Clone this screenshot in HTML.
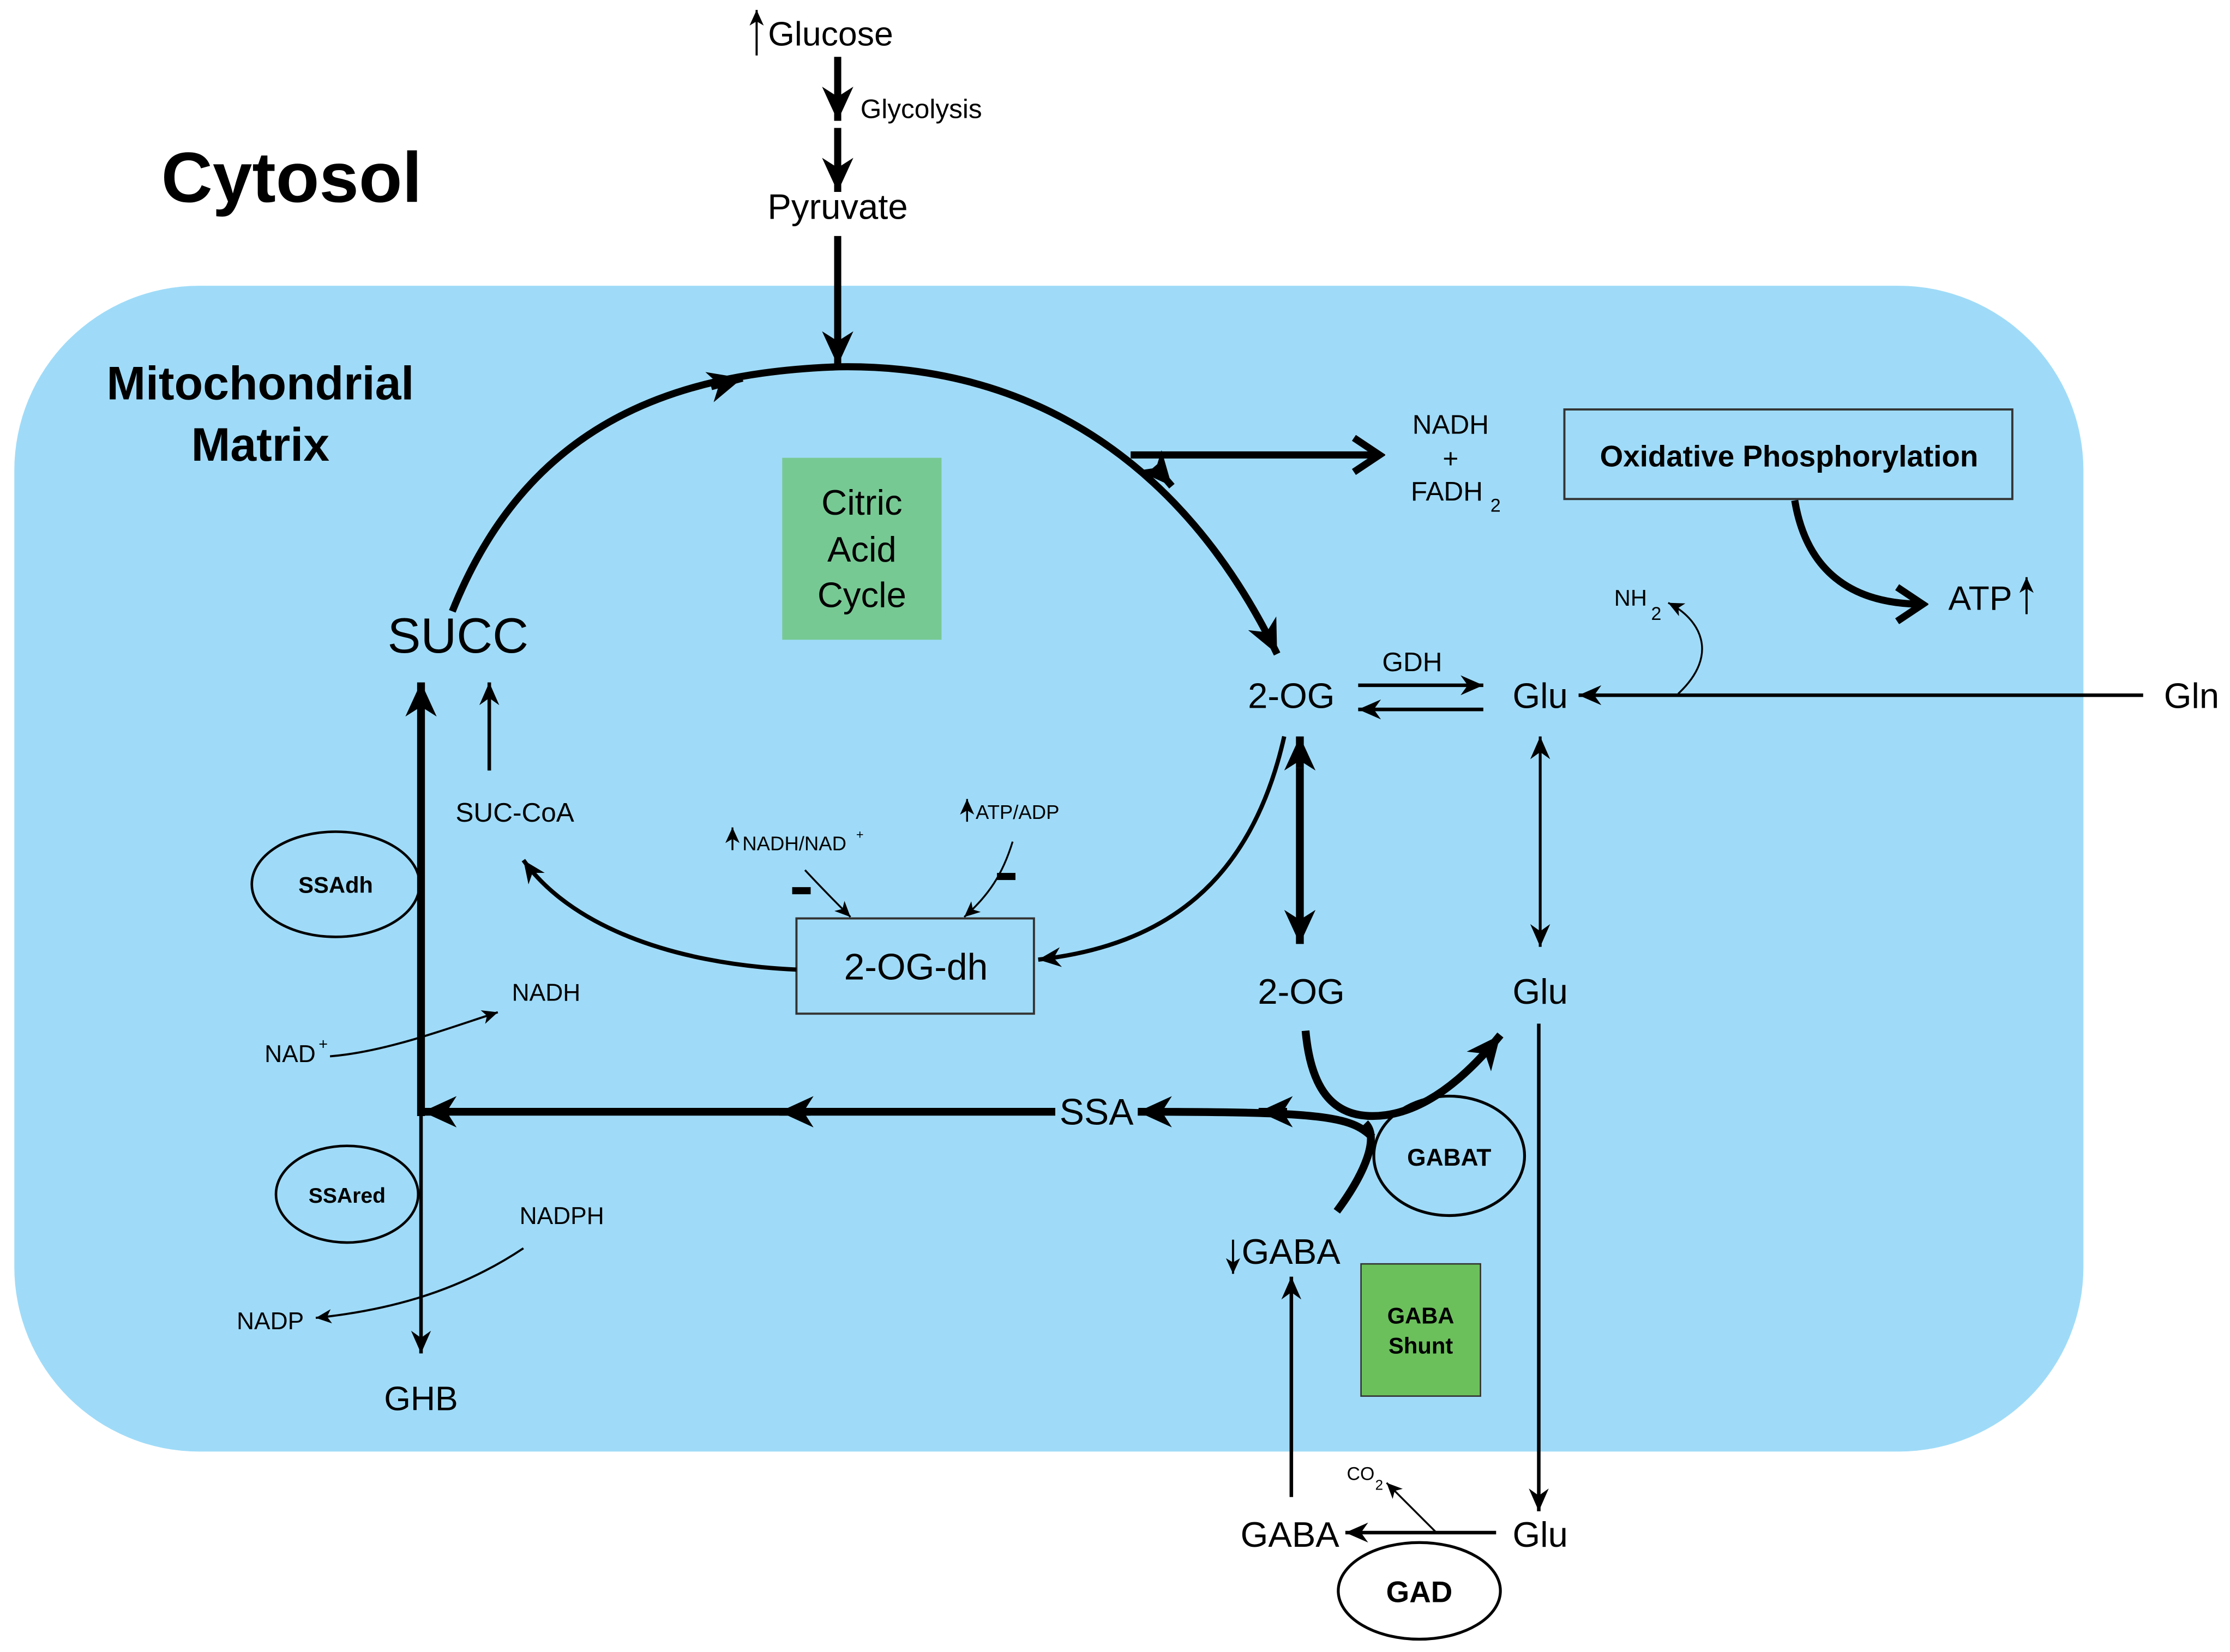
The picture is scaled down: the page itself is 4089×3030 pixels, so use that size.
<!DOCTYPE html>
<html><head><meta charset="utf-8"><style>
html,body{margin:0;padding:0;background:#fff;}
svg{display:block;}
text{font-family:"Liberation Sans",sans-serif;fill:#000;}
</style></head><body>
<svg width="4089" height="3030" viewBox="0 0 1568 1162" xmlns="http://www.w3.org/2000/svg">
<defs>
<marker id="big" markerUnits="userSpaceOnUse" viewBox="-24 -12 26 24" refX="0" refY="0" markerWidth="26" markerHeight="24" orient="auto"><path d="M0,0 L-24,-11 L-17,0 L-24,11 Z" fill="#000"/></marker>
<marker id="med" markerUnits="userSpaceOnUse" viewBox="-16 -8 18 16" refX="0" refY="0" markerWidth="18" markerHeight="16" orient="auto"><path d="M0,0 L-16,-7 L-11,0 L-16,7 Z" fill="#000"/></marker>
<marker id="sm" markerUnits="userSpaceOnUse" viewBox="-12 -6 14 12" refX="0" refY="0" markerWidth="14" markerHeight="12" orient="auto"><path d="M0,0 L-11,-5 L-8,0 L-11,5 Z" fill="#000"/></marker>
<marker id="chev" markerUnits="userSpaceOnUse" viewBox="-20 -14 24 28" refX="0" refY="0" markerWidth="24" markerHeight="28" orient="auto"><path d="M-18,-12 L0,0 L-18,12" fill="none" stroke="#000" stroke-width="5"/></marker>
</defs>
<rect x="10" y="201" width="1455" height="820" rx="130" ry="130" fill="#9fdbf8"/>

<!-- top -->
<text x="540" y="32" font-size="24">Glucose</text>
<line x1="532" y1="39" x2="532" y2="7" stroke="#000" stroke-width="1.5" marker-end="url(#sm)"/>
<line x1="589" y1="40" x2="589" y2="85" stroke="#000" stroke-width="5" marker-end="url(#big)"/>
<text x="605" y="83" font-size="19">Glycolysis</text>
<line x1="589" y1="90" x2="589" y2="135" stroke="#000" stroke-width="5" marker-end="url(#big)"/>
<text x="589" y="154" font-size="25" text-anchor="middle">Pyruvate</text>
<line x1="589" y1="166" x2="589" y2="257" stroke="#000" stroke-width="5" marker-end="url(#big)"/>

<text x="205" y="142" font-size="50" font-weight="bold" text-anchor="middle">Cytosol</text>
<text x="183" y="281" font-size="33" font-weight="bold" text-anchor="middle">Mitochondrial</text>
<text x="183" y="324" font-size="33" font-weight="bold" text-anchor="middle">Matrix</text>

<!-- cycle arc -->
<path d="M318,430 C370,300 470,262 590,258 C720,256 830,320 898,460" fill="none" stroke="#000" stroke-width="5" marker-end="url(#big)"/>
<path d="M500,272 L522,266" stroke="#000" stroke-width="5" marker-end="url(#big)"/>
<path d="M812,328 L824,342" stroke="#000" stroke-width="5" marker-end="url(#big)"/>
<line x1="795" y1="320" x2="970" y2="320" stroke="#000" stroke-width="5" marker-end="url(#chev)"/>
<text x="1020" y="305" font-size="19" text-anchor="middle">NADH</text>
<text x="1020" y="329" font-size="19" text-anchor="middle">+</text>
<text x="992" y="352" font-size="19">FADH</text><text x="1048" y="360" font-size="13">2</text>

<rect x="1100" y="288" width="315" height="63" fill="#9fdbf8" stroke="#333" stroke-width="1.5"/>
<text x="1258" y="328" font-size="21" font-weight="bold" text-anchor="middle">Oxidative Phosphorylation</text>
<path d="M1262,352 C1270,400 1300,425 1352,425" fill="none" stroke="#000" stroke-width="5" marker-end="url(#chev)"/>
<text x="1370" y="429" font-size="24">ATP</text>
<line x1="1425" y1="432" x2="1425" y2="406" stroke="#000" stroke-width="1.5" marker-end="url(#sm)"/>

<rect x="550" y="322" width="112" height="128" fill="#77c994"/>
<text x="606" y="362" font-size="25" text-anchor="middle">Citric</text>
<text x="606" y="395" font-size="25" text-anchor="middle">Acid</text>
<text x="606" y="427" font-size="25" text-anchor="middle">Cycle</text>

<text x="322" y="459" font-size="35" text-anchor="middle">SUCC</text>
<line x1="344" y1="542" x2="344" y2="480" stroke="#000" stroke-width="2.5" marker-end="url(#med)"/>
<text x="362" y="578" font-size="19" text-anchor="middle">SUC-CoA</text>

<!-- left vertical -->
<line x1="296" y1="785" x2="296" y2="480" stroke="#000" stroke-width="5.5" marker-end="url(#big)"/>
<line x1="296" y1="785" x2="296" y2="952" stroke="#000" stroke-width="2.5" marker-end="url(#med)"/>
<text x="296" y="992" font-size="24" text-anchor="middle">GHB</text>
<ellipse cx="236" cy="622" rx="59" ry="37" fill="none" stroke="#000" stroke-width="1.8"/>
<text x="236" y="628" font-size="16" font-weight="bold" text-anchor="middle">SSAdh</text>
<ellipse cx="244" cy="840" rx="50" ry="34" fill="none" stroke="#000" stroke-width="1.8"/>
<text x="244" y="846" font-size="15" font-weight="bold" text-anchor="middle">SSAred</text>
<text x="186" y="747" font-size="17">NAD</text><text x="224" y="738" font-size="11">+</text>
<path d="M232,743 C270,740 310,725 350,712" fill="none" stroke="#000" stroke-width="1.5" marker-end="url(#sm)"/>
<text x="384" y="704" font-size="17" text-anchor="middle">NADH</text>
<text x="395" y="861" font-size="17" text-anchor="middle">NADPH</text>
<path d="M368,878 C320,910 270,922 222,927" fill="none" stroke="#000" stroke-width="1.5" marker-end="url(#sm)"/>
<text x="190" y="935" font-size="17" text-anchor="middle">NADP</text>

<!-- 2-OG-dh -->
<rect x="560" y="646" width="167" height="67" fill="#9fdbf8" stroke="#333" stroke-width="1.5"/>
<text x="644" y="689" font-size="26" text-anchor="middle">2-OG-dh</text>
<path d="M560,682 C470,678 400,650 368,605" fill="none" stroke="#000" stroke-width="3" marker-end="url(#med)"/>
<path d="M903,518 C880,620 820,665 730,675" fill="none" stroke="#000" stroke-width="3" marker-end="url(#med)"/>
<text x="522" y="598" font-size="14">NADH/NAD</text><text x="602" y="590" font-size="9">+</text>
<line x1="515" y1="598" x2="515" y2="582" stroke="#000" stroke-width="1.3" marker-end="url(#sm)"/>
<text x="686" y="576" font-size="14">ATP/ADP</text>
<line x1="680" y1="578" x2="680" y2="562" stroke="#000" stroke-width="1.3" marker-end="url(#sm)"/>
<rect x="557" y="624" width="13" height="5" fill="#000"/>
<rect x="701" y="614" width="13" height="5" fill="#000"/>
<path d="M566,612 C578,625 588,635 598,645" fill="none" stroke="#000" stroke-width="1.3" marker-end="url(#sm)"/>
<path d="M712,592 C705,615 695,630 678,645" fill="none" stroke="#000" stroke-width="1.3" marker-end="url(#sm)"/>

<!-- 2-OG / Glu -->
<text x="908" y="498" font-size="25" text-anchor="middle">2-OG</text>
<text x="993" y="472" font-size="19" text-anchor="middle">GDH</text>
<line x1="955" y1="482" x2="1043" y2="482" stroke="#000" stroke-width="2.5" marker-end="url(#med)"/>
<line x1="1043" y1="499" x2="955" y2="499" stroke="#000" stroke-width="2.5" marker-end="url(#med)"/>
<text x="1083" y="498" font-size="25" text-anchor="middle">Glu</text>
<text x="1541" y="498" font-size="25" text-anchor="middle">Gln</text>
<line x1="1507" y1="489" x2="1110" y2="489" stroke="#000" stroke-width="2.5" marker-end="url(#med)"/>
<text x="1135" y="426" font-size="16">NH</text><text x="1161" y="436" font-size="13">2</text>
<path d="M1180,488 C1210,460 1195,435 1173,424" fill="none" stroke="#000" stroke-width="1.3" marker-end="url(#sm)"/>
<line x1="914" y1="540" x2="914" y2="518" stroke="#000" stroke-width="5.5" marker-end="url(#big)"/>
<line x1="914" y1="540" x2="914" y2="664" stroke="#000" stroke-width="5.5" marker-end="url(#big)"/>
<line x1="1083" y1="590" x2="1083" y2="518" stroke="#000" stroke-width="2" marker-end="url(#med)"/>
<line x1="1083" y1="590" x2="1083" y2="666" stroke="#000" stroke-width="2" marker-end="url(#med)"/>
<text x="915" y="706" font-size="25" text-anchor="middle">2-OG</text>
<text x="1083" y="706" font-size="25" text-anchor="middle">Glu</text>

<!-- SSA -->
<text x="771" y="791" font-size="26" text-anchor="middle">SSA</text>
<path d="M965,800 C950,785 930,782 800,782" fill="none" stroke="#000" stroke-width="5.5" marker-end="url(#big)"/>
<line x1="905" y1="782" x2="885" y2="782" stroke="#000" stroke-width="5.5" marker-end="url(#big)"/>
<line x1="742" y1="782" x2="297" y2="782" stroke="#000" stroke-width="5.5" marker-end="url(#big)"/>
<line x1="570" y1="782" x2="548" y2="782" stroke="#000" stroke-width="5.5" marker-end="url(#big)"/>
<path d="M918,725 C922,770 940,785 965,785 C995,785 1025,765 1055,728" fill="none" stroke="#000" stroke-width="5.5" marker-end="url(#big)"/>
<path d="M940,852 C960,825 970,800 960,790" fill="none" stroke="#000" stroke-width="5.5"/>
<ellipse cx="1019" cy="813" rx="53" ry="42" fill="none" stroke="#000" stroke-width="2"/>
<text x="1019" y="820" font-size="17" font-weight="bold" text-anchor="middle">GABAT</text>

<text x="873" y="889" font-size="25">GABA</text>
<line x1="867" y1="872" x2="867" y2="896" stroke="#000" stroke-width="1.5" marker-end="url(#sm)"/>
<rect x="957" y="889" width="84" height="93" fill="#6cc05c" stroke="#333" stroke-width="1"/>
<text x="999" y="931" font-size="16" font-weight="bold" text-anchor="middle">GABA</text>
<text x="999" y="952" font-size="16" font-weight="bold" text-anchor="middle">Shunt</text>
<line x1="908" y1="1053" x2="908" y2="898" stroke="#000" stroke-width="2.5" marker-end="url(#med)"/>
<line x1="1082" y1="720" x2="1082" y2="1063" stroke="#000" stroke-width="2.5" marker-end="url(#med)"/>
<text x="907" y="1088" font-size="25" text-anchor="middle">GABA</text>
<text x="1083" y="1088" font-size="25" text-anchor="middle">Glu</text>
<line x1="1052" y1="1078" x2="946" y2="1078" stroke="#000" stroke-width="2.5" marker-end="url(#med)"/>
<text x="947" y="1041" font-size="13">CO</text><text x="967" y="1048" font-size="10">2</text>
<line x1="1010" y1="1078" x2="975" y2="1043" stroke="#000" stroke-width="1.3" marker-end="url(#sm)"/>
<ellipse cx="998" cy="1119" rx="57" ry="34" fill="#fff" stroke="#000" stroke-width="2"/>
<text x="998" y="1127" font-size="21" font-weight="bold" text-anchor="middle">GAD</text>
</svg>
</body></html>
